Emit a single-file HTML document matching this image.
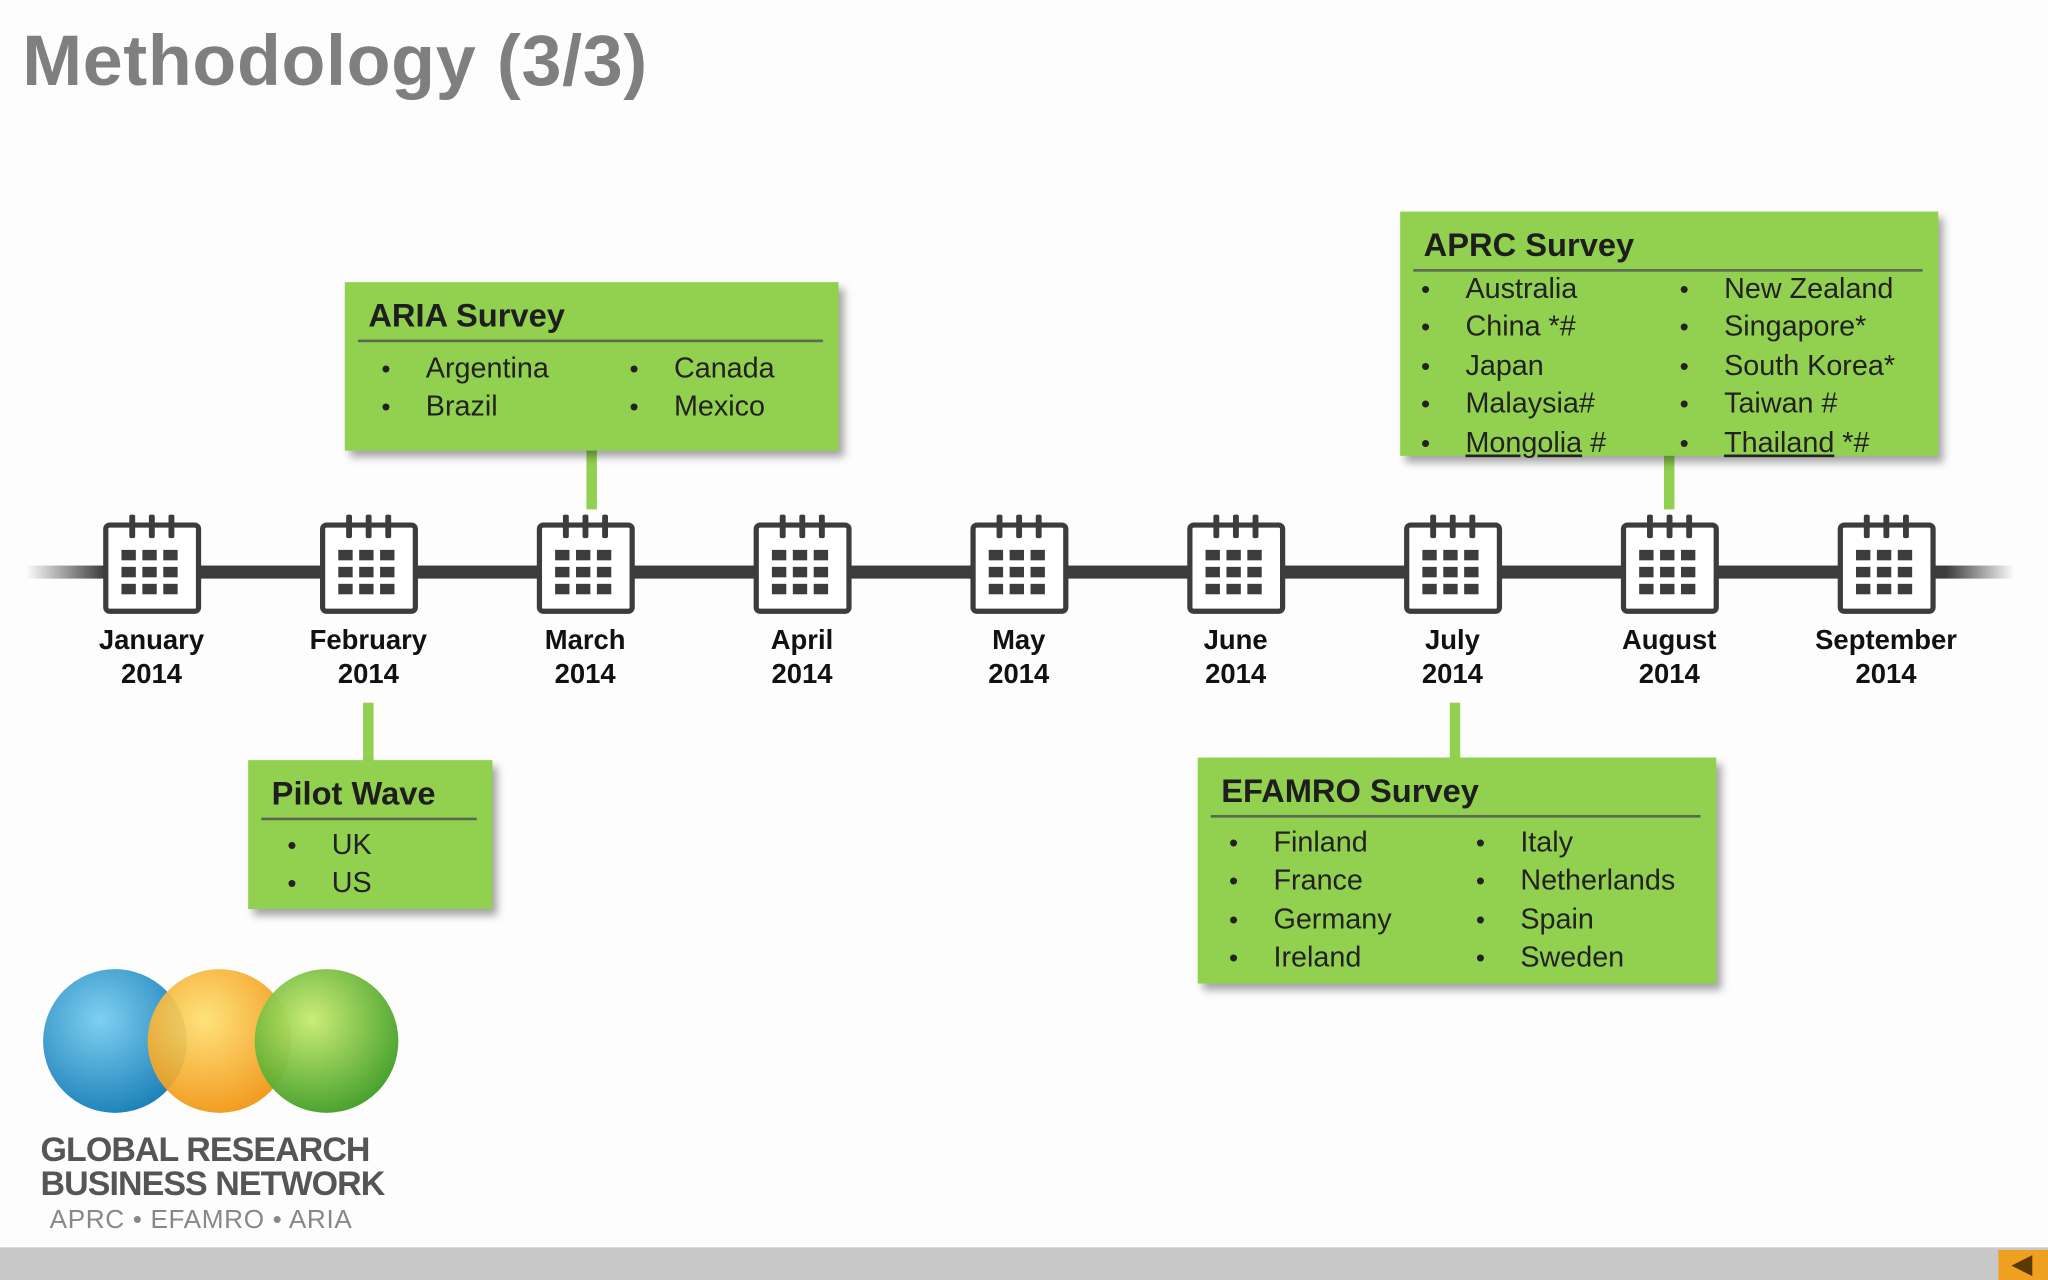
<!DOCTYPE html>
<html><head><meta charset="utf-8"><style>
html,body{margin:0;padding:0;width:2048px;height:1280px;overflow:hidden;background:#fff}
#s{position:absolute;left:0;top:0;width:1568px;height:980px;transform:scale(1.306122);transform-origin:0 0;font-family:"Liberation Sans",sans-serif;background:#fdfdfd}
.t{position:absolute;left:17px;top:14px;font-size:55px;font-weight:bold;color:#7f7f7f;letter-spacing:.5px}
.box{position:absolute;background:#92d050;box-shadow:4px 5px 6px rgba(0,0,0,.35);color:#1e1e1e}
.box h3{margin:0;font-size:25px;font-weight:bold;padding:0 0 2px 0;border-bottom:2px solid #5a6a50;margin-left:10px;margin-right:12px;padding-left:8px;position:absolute;top:10px;left:0;right:0;line-height:32px}
.col{position:absolute;font-size:22px;line-height:27.4px;color:#222}
.col div:before{content:"•";display:inline-block;width:34px;font-size:20px;}
.conn{position:absolute;background:#92d050;width:8px}
.cal{position:absolute;top:400px;border:4px solid #3c3c3c;border-radius:5px;background:#fff;box-sizing:border-box;margin-left:-37px;width:75px;height:70px}
.lab{position:absolute;top:478px;width:160px;margin-left:-80px;text-align:center;font-size:21px;font-weight:bold;line-height:26px;color:#111}
</style></head><body><div id="s">
<div class="t">Methodology (3/3)</div>
<div style="position:absolute;left:20px;top:433px;width:1522px;height:10px;background:linear-gradient(90deg,rgba(60,60,60,0) 0,#3c3c3c 60px,#3c3c3c 1470px,rgba(60,60,60,0) 1522px)"></div>
<div id="c"></div>
<svg width="1568" height="480" style="position:absolute;left:0;top:0" id="cals"></svg>

<div class="conn" style="left:449px;top:343px;height:47px"></div>
<div class="conn" style="left:1274px;top:347px;height:43px"></div>
<div class="conn" style="left:278px;top:538px;height:46px"></div>
<div class="conn" style="left:1110px;top:538px;height:44px"></div>

<div class="box" style="left:264px;top:216px;width:378px;height:129px"><h3>ARIA Survey</h3>
<div class="col" style="left:28px;top:52px"><div>Argentina</div><div>Brazil</div></div>
<div class="col" style="left:218px;top:52px"><div>Canada</div><div>Mexico</div></div></div>

<div class="box" style="left:1072px;top:162px;width:412px;height:187px"><h3>APRC Survey</h3>
<div class="col" style="left:16px;top:45px"><div>Australia</div><div>China *#</div><div>Japan</div><div>Malaysia#</div><div><u>Mongolia</u> #</div></div>
<div class="col" style="left:214px;top:45px"><div>New Zealand</div><div>Singapore*</div><div>South Korea*</div><div>Taiwan #</div><div><u>Thailand</u> *#</div></div></div>

<div class="box" style="left:190px;top:582px;width:187px;height:114px"><h3>Pilot Wave</h3>
<div class="col" style="left:30px;top:51px"><div>UK</div><div>US</div></div></div>

<div class="box" style="left:917px;top:580px;width:397px;height:173px"><h3>EFAMRO Survey</h3>
<div class="col" style="left:24px;top:51px"><div>Finland</div><div>France</div><div>Germany</div><div>Ireland</div></div>
<div class="col" style="left:213px;top:51px"><div>Italy</div><div>Netherlands</div><div>Spain</div><div>Sweden</div></div></div>

<svg width="300" height="130" style="position:absolute;left:25px;top:738px">
<defs>
<radialGradient id="b" cx=".4" cy=".35" r=".7"><stop offset="0" stop-color="#7fd0f0"/><stop offset="1" stop-color="#1a7fb8"/></radialGradient>
<radialGradient id="o" cx=".4" cy=".35" r=".7"><stop offset="0" stop-color="#ffe070"/><stop offset="1" stop-color="#f0900a"/></radialGradient>
<radialGradient id="g" cx=".4" cy=".35" r=".7"><stop offset="0" stop-color="#c8ec70"/><stop offset="1" stop-color="#3a9a20"/></radialGradient>
</defs>
<circle cx="63" cy="59" r="55" fill="url(#b)"/>
<circle cx="143" cy="59" r="55" fill="url(#o)" opacity=".92"/>
<circle cx="225" cy="59" r="55" fill="url(#g)" opacity=".95"/>
</svg>
<div style="position:absolute;left:31px;top:867px;font-size:26px;font-weight:bold;color:#555;line-height:26px;letter-spacing:-.7px">GLOBAL RESEARCH<br>BUSINESS NETWORK</div>
<div style="position:absolute;left:38px;top:923px;font-size:20px;color:#888;letter-spacing:.5px">APRC • EFAMRO • ARIA</div>

<div style="position:absolute;left:0;top:955px;width:1568px;height:25px;background:#c8c8c8"></div>
<div style="position:absolute;left:1530px;top:957px;width:38px;height:23px;background:#f0a020"></div>
<div style="position:absolute;left:1540px;top:961px;width:0;height:0;border-top:8px solid transparent;border-bottom:8px solid transparent;border-right:16px solid #5a3a00"></div>
</div>
<script>
var xs=[116,282,448,614,780,946,1112,1278,1444],
m=["January","February","March","April","May","June","July","August","September"],h="";
xs.forEach(function(x,i){
h+='<div class="cal" style="left:'+x+'px"></div><div class="lab" style="left:'+x+'px">'+m[i]+'<br>2014</div>';
});
document.getElementById('c').innerHTML=h;
var s="";
xs.forEach(function(x){
[-15,0,15].forEach(function(d){s+='<rect x="'+(x+d-2)+'" y="394" width="4.5" height="18" rx="1.5" fill="#3c3c3c"/>';});
for(var r=0;r<3;r++)for(var c=0;c<3;c++)s+='<rect x="'+(x-23+c*16)+'" y="'+(421+r*13)+'" width="11" height="8" fill="#3c3c3c"/>';
});
document.getElementById('cals').innerHTML=s;
</script>
</body></html>
